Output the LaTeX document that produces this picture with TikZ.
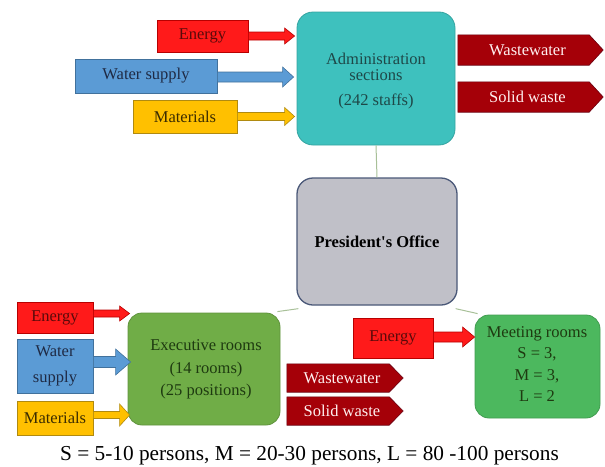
\documentclass[tikz,border=0pt]{standalone}
\usepackage{fontspec}
\setmainfont{LiberationSerif}[Extension=.ttf, UprightFont=*-Regular, BoldFont=*-Bold, ItalicFont=*-Italic, BoldItalicFont=*-BoldItalic]
\usetikzlibrary{calc}
\definecolor{cRed}{HTML}{FF1A1A}
\definecolor{cRedD}{HTML}{B80000}
\definecolor{cRedT}{HTML}{5A0A0A}
\definecolor{cBlue}{HTML}{5B9BD5}
\definecolor{cBlueD}{HTML}{41719C}
\definecolor{cBlueT}{HTML}{1F2A44}
\definecolor{cYel}{HTML}{FFC000}
\definecolor{cYelD}{HTML}{B08A10}
\definecolor{cYelT}{HTML}{3B2C00}
\definecolor{cTeal}{HTML}{3EC1BE}
\definecolor{cTealT}{HTML}{1E4848}
\definecolor{cGray}{HTML}{C0C0C8}
\definecolor{cGrayD}{HTML}{4A5878}
\definecolor{cGreen}{HTML}{70AD47}
\definecolor{cGreenT}{HTML}{1E3A10}
\definecolor{cMeet}{HTML}{4CB85E}
\definecolor{cWaste}{HTML}{A50008}
\definecolor{cWasteD}{HTML}{6A0010}
\definecolor{cLink}{HTML}{A8C098}
\newcommand{\fatarrow}[7]{%
  \path[fill=#6,draw=#7,line width=0.6pt] let \p1=#1, \p2=#2 in
  (\x1,\y1+#3pt) -- (\x2-#5pt,\y1+#3pt) -- (\x2-#5pt,\y1+#4pt) -- (\x2,\y1)
  -- (\x2-#5pt,\y1-#4pt) -- (\x2-#5pt,\y1-#3pt) -- (\x1,\y1-#3pt) -- cycle;}
% output pentagon: #1 name, #2 centre, #3 width, #4 height, #5 text
\newcommand{\wasteout}[5]{%
  \node[minimum width=#3, minimum height=#4] (#1b) at #2 {};
  \draw[fill=cWaste, draw=cWasteD, line width=0.6pt] (#1b.north west) -- ([xshift=-14pt]#1b.north east)
    -- (#1b.east) -- ([xshift=-14pt]#1b.south east) -- (#1b.south west) -- cycle;
  \node[text=white!94!red] (#1) at ([xshift=-3pt]#1b.center) {#5};}
\tikzset{
  every node/.style={font=\fontsize{16.5}{19}\selectfont, inner sep=0pt, align=center},
  inbox/.style={draw, line width=0.6pt},
  energybox/.style={inbox, fill=cRed, draw=cRedD, text=cRedT},
  waterbox/.style={inbox, fill=cBlue, draw=cBlueD, text=cBlueT},
  matbox/.style={inbox, fill=cYel, draw=cYelD, text=cYelT},
  mainbox/.style={rounded corners=16pt, line width=0.8pt},
  link/.style={draw=cLink, line width=1pt}
}
\begin{document}
\begin{tikzpicture}[x=1pt,y=-1pt]
\useasboundingbox (0,0) rectangle (605,466);
% main boxes
\node[mainbox, fill=cTeal, draw=cTeal!85!black, minimum width=158pt, minimum height=133pt] (admin) at (376,78.5) {};
\node[text=cTealT, anchor=base] (admt1) at (376,64) {Administration};
\node[text=cTealT, anchor=base] (admt2) at (376,80) {sections};
\node[text=cTealT, anchor=base] (admt3) at (376,105) {(242 staffs)};
\node[mainbox, fill=cGray, draw=cGrayD, line width=1.3pt, minimum width=160pt, minimum height=127pt] (pres) at (377,241.5) {\bfseries President\textquotesingle s Office};
\node[mainbox, rounded corners=14pt, fill=cGreen, draw=cGreen!85!black, minimum width=152pt, minimum height=112pt] (exec) at (204,369) {};
\node[text=cGreenT, anchor=base] (ext1) at (206,350) {Executive rooms};
\node[text=cGreenT, anchor=base] (ext2) at (206,373) {(14 rooms)};
\node[text=cGreenT, anchor=base] (ext3) at (206,395) {(25 positions)};
\node[mainbox, rounded corners=14pt, fill=cMeet, draw=cMeet!85!black, minimum width=125pt, minimum height=103pt] (meet) at (537.5,366.5) {};
\node[text=cGreenT, anchor=base] (mt1) at (537,337) {Meeting rooms};
\node[text=cGreenT, anchor=base] (mt2) at (537,358) {S = 3,};
\node[text=cGreenT, anchor=base] (mt3) at (537,380) {M = 3,};
\node[text=cGreenT, anchor=base] (mt4) at (537,401) {L = 2};
% links
\draw[link] (admin.south) -- (pres.north);
\draw[link] ([shift={(2pt,-3pt)}]pres.south west) -- ([shift={(-3pt,1pt)}]exec.north east);
\draw[link] ([shift={(-2pt,-3pt)}]pres.south east) -- ([shift={(3pt,1pt)}]meet.north west);
% top inputs
\node[energybox, minimum width=91pt, minimum height=32pt] (tE) at (202.5,36) {Energy};
\node[waterbox, minimum width=142pt, minimum height=34pt] (tW) at (146,76) {Water supply};
\node[matbox, minimum width=104pt, minimum height=33pt] (tM) at (185,116.5) {Materials};
\fatarrow{(tE.east)}{([xshift=-2pt]admin.west)}{4}{8}{10}{cRed}{cRedD}
\fatarrow{([yshift=-1pt]tW.east)}{([xshift=-3pt]admin.west)}{5}{10}{11}{cBlue}{cBlueD}
\fatarrow{(tM.east)}{([xshift=-2pt]admin.west)}{4}{9}{10}{cYel}{cYelD}
% top outputs
\wasteout{tWW}{(530.5,50)}{145pt}{30pt}{Wastewater}
\wasteout{tSW}{(530.5,97)}{145pt}{30pt}{Solid waste}
% bottom left inputs
\node[energybox, minimum width=76pt, minimum height=31pt] (bE) at (55,317.5) {Energy};
\node[waterbox, minimum width=76pt, minimum height=54pt, font=\fontsize{16.5}{26}\selectfont] (bW) at (55,366) {Water\\supply};
\node[matbox, minimum width=76pt, minimum height=34pt] (bM) at (55,418) {Materials};
\fatarrow{([yshift=4pt]bE.east)}{([xshift=2pt]exec.west)}{3.5}{7.5}{10}{cRed}{cRedD}
\fatarrow{([yshift=4pt]bW.east)}{([xshift=3pt]exec.west)}{5.5}{13}{15}{cBlue}{cBlueD}
\fatarrow{([yshift=3pt]bM.east)}{([xshift=2pt]exec.west)}{3.5}{11}{10}{cYel}{cYelD}
% bottom outputs
\wasteout{bWW}{(345,378)}{116pt}{28pt}{Wastewater}
\wasteout{bSW}{(345,411)}{116pt}{28pt}{Solid waste}
% meeting energy
\node[energybox, minimum width=80pt, minimum height=40pt] (mE) at (393,338) {Energy};
\fatarrow{([yshift=1pt]mE.east)}{(meet.west)}{5}{10}{12}{cRed}{cRedD}
% caption
\node[font=\fontsize{21.3}{24}\selectfont, anchor=base] (cap) at (309.5,460) {S = 5-10 persons, M = 20-30 persons, L = 80 -100 persons};
\end{tikzpicture}
\end{document}
